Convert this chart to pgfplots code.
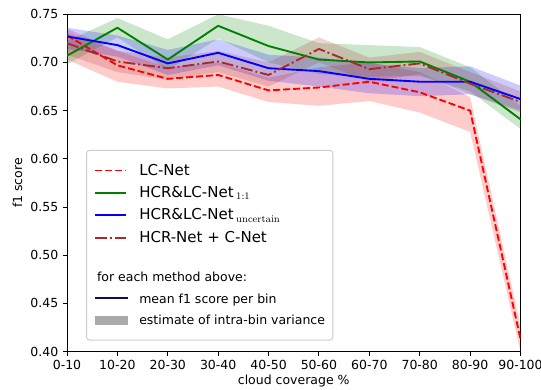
\documentclass[border=0pt]{standalone}
\usepackage[no-math]{fontspec}
\setmainfont{DejaVu Sans}
\usepackage{pgfplots}
\pgfplotsset{compat=1.18}
\usepackage{pgfplotstable}
\usepgfplotslibrary{fillbetween}

\definecolor{mplred}{rgb}{1,0,0}
\definecolor{mplgreen}{rgb}{0,0.5,0}
\definecolor{mplblue}{rgb}{0,0,1}
\definecolor{mplbrown}{HTML}{A52A2A}
\definecolor{legnavy}{rgb}{0.05,0.05,0.32}
\definecolor{leggray}{rgb}{0.667,0.667,0.667}
\definecolor{frame}{rgb}{0.8,0.8,0.8}

\newcommand\bigstrut{\rule[-5.3pt]{0pt}{17.9pt}}
\newcommand\smallstrut{\rule[-5pt]{0pt}{17.4pt}}
\newcommand\smallfont{\fontsize{10}{12}\selectfont}

\pgfplotstableread{
x m lo hi
0 0.728 0.703 0.735
1 0.697 0.680 0.712
2 0.683 0.673 0.695
3 0.687 0.675 0.700
4 0.671 0.659 0.684
5 0.674 0.655 0.695
6 0.680 0.660 0.700
7 0.669 0.648 0.690
8 0.650 0.628 0.664
9 0.413 0.400 0.426
}\lcnet

\pgfplotstableread{
x m lo hi
0 0.707 0.698 0.722
1 0.736 0.726 0.746
2 0.703 0.692 0.724
3 0.738 0.725 0.750
4 0.717 0.700 0.738
5 0.703 0.688 0.720
6 0.700 0.685 0.718
7 0.701 0.686 0.716
8 0.680 0.670 0.695
9 0.641 0.631 0.655
}\hcrone

\pgfplotstableread{
x m lo hi
0 0.727 0.714 0.736
1 0.718 0.706 0.728
2 0.699 0.687 0.713
3 0.710 0.697 0.724
4 0.694 0.681 0.708
5 0.691 0.675 0.705
6 0.683 0.668 0.699
7 0.680 0.665 0.694
8 0.680 0.667 0.696
9 0.662 0.650 0.676
}\hcrunc

\pgfplotstableread{
x m lo hi
0 0.720 0.708 0.731
1 0.701 0.690 0.712
2 0.694 0.682 0.705
3 0.701 0.690 0.712
4 0.687 0.675 0.700
5 0.714 0.700 0.726
6 0.693 0.680 0.705
7 0.699 0.688 0.711
8 0.678 0.667 0.690
9 0.659 0.648 0.670
}\hcrc

\pgfplotsset{
  meanline/.style={legend image code/.code={\draw[legnavy, line width=1.5pt, sharp corners] (0pt,0pt) -- (26.4pt,0pt);}},
  graypatch/.style={legend image code/.code={\fill[leggray, sharp corners] (0pt,-3.2pt) rectangle (26pt,3.2pt);}},
}

\begin{document}
\begin{tikzpicture}
\begin{axis}[
  scale only axis,
  width=362.8pt, height=269.9pt,
  xmin=0, xmax=9, ymin=0.40, ymax=0.75,
  xtick={0,1,2,3,4,5,6,7,8,9},
  xticklabels={0-10,10-20,20-30,30-40,40-50,50-60,60-70,70-80,80-90,90-100},
  ytick={0.40,0.45,0.50,0.55,0.60,0.65,0.70,0.75},
  yticklabel style={/pgf/number format/.cd, fixed, fixed zerofill, precision=2},
  /pgf/number format/assume math mode=true,
  tick pos=left,
  tick align=outside,
  major tick length=3.5pt,
  every tick/.style={black, line width=0.8pt},
  axis line style={line width=0.8pt},
  tick label style={font=\smallfont},
  label style={font=\smallfont},
  xlabel={cloud coverage \%},
  ylabel={f1 score},
  xlabel style={at={(axis description cs:0.5,-0.087)}, anchor=center},
  ylabel style={at={(axis description cs:-0.109,0.5)}, anchor=center},
  legend style={
    at={(axis description cs:0.0419,0.598)}, anchor=north west,
    draw=frame, line width=0.8pt, rounded corners=2.5pt, fill=white,
    inner xsep=6.3pt, inner ysep=7.2pt,
    nodes={inner sep=0pt, text depth=, text height=},
    column sep=8pt, row sep=0pt,
    font=\fontsize{12}{14}\selectfont,
  },
  legend cell align=left,
  legend image code/.code={\draw[#1, sharp corners] (0pt,0pt) -- (24.5pt,0pt);},
  line join=round,
]
% LC-Net
\addplot[mplred, line width=1.5pt, dash pattern=on 5.55pt off 2.4pt, forget plot] table[x=x,y=m]{\lcnet};
\addplot[name path=al, draw=none, forget plot] table[x=x,y=lo]{\lcnet};
\addplot[name path=ah, draw=none, forget plot] table[x=x,y=hi]{\lcnet};
\addplot[fill=mplred, fill opacity=0.2, draw=none, forget plot] fill between[of=al and ah];
% HCR&LC-Net 1:1
\addplot[mplgreen, line width=1.5pt, forget plot] table[x=x,y=m]{\hcrone};
\addplot[name path=bl, draw=none, forget plot] table[x=x,y=lo]{\hcrone};
\addplot[name path=bh, draw=none, forget plot] table[x=x,y=hi]{\hcrone};
\addplot[fill=mplgreen, fill opacity=0.2, draw=none, forget plot] fill between[of=bl and bh];
% HCR&LC-Net uncertain
\addplot[mplblue, line width=1.5pt, forget plot] table[x=x,y=m]{\hcrunc};
\addplot[name path=cl, draw=none, forget plot] table[x=x,y=lo]{\hcrunc};
\addplot[name path=ch, draw=none, forget plot] table[x=x,y=hi]{\hcrunc};
\addplot[fill=mplblue, fill opacity=0.2, draw=none, forget plot] fill between[of=cl and ch];
% HCR-Net + C-Net
\addplot[mplbrown, line width=1.5pt, dash pattern=on 9.6pt off 2.4pt on 1.5pt off 2.4pt, forget plot] table[x=x,y=m]{\hcrc};
\addplot[name path=dl, draw=none, forget plot] table[x=x,y=lo]{\hcrc};
\addplot[name path=dh, draw=none, forget plot] table[x=x,y=hi]{\hcrc};
\addplot[fill=mplbrown, fill opacity=0.2, draw=none, forget plot] fill between[of=dl and dh];

% legend
\addlegendimage{mplred, line width=1.5pt, dash pattern=on 5.55pt off 2.4pt}
\addlegendentry{\bigstrut LC-Net}
\addlegendimage{mplgreen, line width=1.5pt}
\addlegendentry{\bigstrut HCR\&LC-Net\,$_{\mathrm{1:1}}$}
\addlegendimage{mplblue, line width=1.5pt}
\addlegendentry{\bigstrut HCR\&LC-Net\,$_{\mathrm{uncertain}}$}
\addlegendimage{mplbrown, line width=1.5pt, dash pattern=on 9.6pt off 2.4pt on 1.5pt off 2.4pt}
\addlegendentry{\bigstrut HCR-Net + C-Net}
\addlegendimage{empty legend}
\addlegendentry{\rule{0pt}{13.55pt}}
\addlegendimage{empty legend}
\addlegendentry{\smallfont\smallstrut\hspace*{-33.8pt}for each method above:}
\addlegendimage{meanline}
\addlegendentry{\smallfont\smallstrut mean f1 score per bin}
\addlegendimage{graypatch}
\addlegendentry{\smallfont\smallstrut estimate of intra-bin variance}
\end{axis}
\pgfresetboundingbox
\path[use as bounding box] (-53.6pt,-30.6pt) rectangle (379.2pt,281.3pt);
\end{tikzpicture}
\end{document}
